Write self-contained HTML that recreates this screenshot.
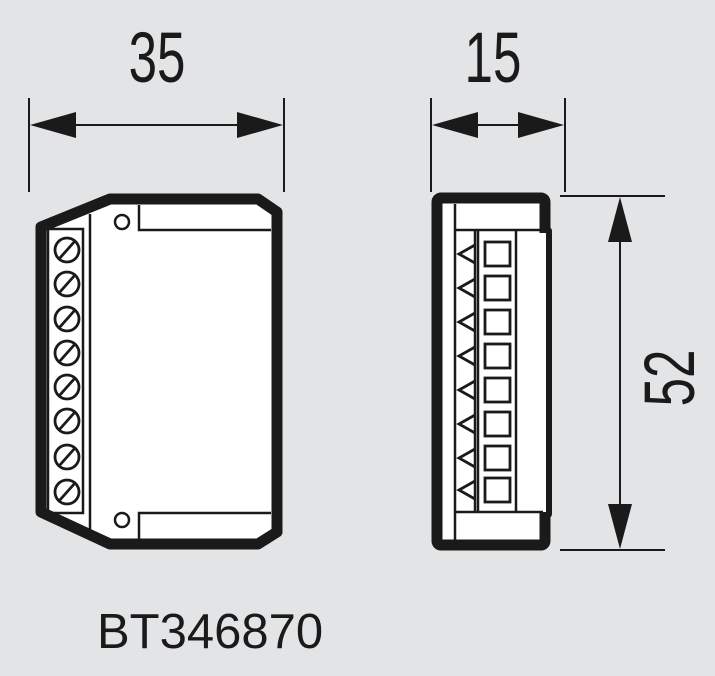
<!DOCTYPE html>
<html><head><style>
html,body{margin:0;padding:0;background:#e3e4e6;}
svg{display:block;}
text{font-family:"Liberation Sans",sans-serif;fill:#1a1a1a;}
</style></head><body>
<svg width="715" height="676" viewBox="0 0 715 676" xmlns="http://www.w3.org/2000/svg">
<rect width="715" height="676" fill="#e3e4e6"/>
<g stroke="#1a1a1a" fill="none" stroke-width="2">
<!-- dimension 35 -->
<line x1="29" y1="98" x2="29" y2="192"/>
<line x1="284" y1="98" x2="284" y2="192"/>
<line x1="60" y1="125" x2="255" y2="125"/>
<!-- dimension 15 -->
<line x1="431" y1="98" x2="431" y2="192"/>
<line x1="565" y1="98" x2="565" y2="192"/>
<line x1="460" y1="125" x2="540" y2="125"/>
<!-- dimension 52 -->
<line x1="560" y1="196" x2="665" y2="196"/>
<line x1="560" y1="550" x2="665" y2="550"/>
<line x1="620" y1="230" x2="620" y2="520"/>
</g>
<g fill="#1a1a1a">
<polygon points="30,125 76,112 76,138"/>
<polygon points="283,125 237,112 237,138"/>
<polygon points="432,125 478,112 478,138"/>
<polygon points="564,125 518,112 518,138"/>
<polygon points="620,197 608,242 632,242"/>
<polygon points="620,549 608,504 632,504"/>
</g>
<text x="157" y="82" font-size="71" text-anchor="middle" transform="translate(157 0) scale(0.72 1) translate(-157 0)">35</text>
<text x="493" y="82" font-size="71" text-anchor="middle" transform="translate(493 0) scale(0.72 1) translate(-493 0)">15</text>
<text x="0" y="0" font-size="71" text-anchor="middle" transform="translate(694 378) rotate(-90) scale(0.72 1)">52</text>
<text x="97" y="648" font-size="49">BT346870</text>

<!-- front view -->
<polygon points="41,227 110,199 258,199 277,212 277,532 258,544 110,544 41,512" fill="#fff" stroke="#1a1a1a" stroke-width="11" stroke-linejoin="round"/>
<g stroke="#1a1a1a" fill="none" stroke-width="2.5">
<rect x="48" y="229" width="35" height="284"/>
<line x1="90" y1="214" x2="90" y2="530"/>
<polyline points="139,205 139,230 271,230"/>
<polyline points="139,539 139,513 271,513"/>
<circle cx="122" cy="222" r="7"/>
<circle cx="122" cy="520" r="7"/>
<g stroke-width="2.8">
<circle cx="67" cy="250" r="12"/><line x1="59" y1="259" x2="75" y2="241"/>
<circle cx="67" cy="284" r="12"/><line x1="59" y1="293" x2="75" y2="275"/>
<circle cx="67" cy="319" r="12"/><line x1="59" y1="328" x2="75" y2="310"/>
<circle cx="67" cy="353" r="12"/><line x1="59" y1="362" x2="75" y2="344"/>
<circle cx="67" cy="387" r="12"/><line x1="59" y1="396" x2="75" y2="378"/>
<circle cx="67" cy="421" r="12"/><line x1="59" y1="430" x2="75" y2="412"/>
<circle cx="67" cy="457" r="12"/><line x1="59" y1="466" x2="75" y2="448"/>
<circle cx="67" cy="492" r="12"/><line x1="59" y1="501" x2="75" y2="483"/>
</g>
</g>

<!-- side view -->
<rect x="538" y="227" width="14" height="291" rx="4" fill="#1a1a1a"/>
<rect x="437" y="198" width="108" height="347" rx="4" fill="#fff" stroke="#1a1a1a" stroke-width="11"/>
<rect x="538" y="233" width="8" height="279" fill="#fff"/>
<g stroke="#1a1a1a" fill="none" stroke-width="2.5">
<line x1="455" y1="204" x2="455" y2="540"/>
<line x1="455" y1="230" x2="543" y2="230"/>
<line x1="455" y1="512" x2="543" y2="512"/>
<line x1="475" y1="230" x2="475" y2="512"/>
<line x1="478" y1="230" x2="478" y2="512"/>
<line x1="516" y1="230" x2="516" y2="512"/>
<g stroke-width="2.8">
<rect x="485" y="242" width="25" height="24"/>
<rect x="485" y="276" width="25" height="24"/>
<rect x="485" y="310" width="25" height="24"/>
<rect x="485" y="344" width="25" height="24"/>
<rect x="485" y="378" width="25" height="24"/>
<rect x="485" y="412" width="25" height="24"/>
<rect x="485" y="446" width="25" height="24"/>
<rect x="485" y="478" width="25" height="24"/>
<polyline points="475,245 459,254 475,263"/>
<polyline points="475,279 459,288 475,297"/>
<polyline points="475,313 459,322 475,331"/>
<polyline points="475,347 459,356 475,365"/>
<polyline points="475,381 459,390 475,399"/>
<polyline points="475,415 459,424 475,433"/>
<polyline points="475,449 459,458 475,467"/>
<polyline points="475,481 459,490 475,499"/>
</g>
</g>
</svg>
</body></html>
